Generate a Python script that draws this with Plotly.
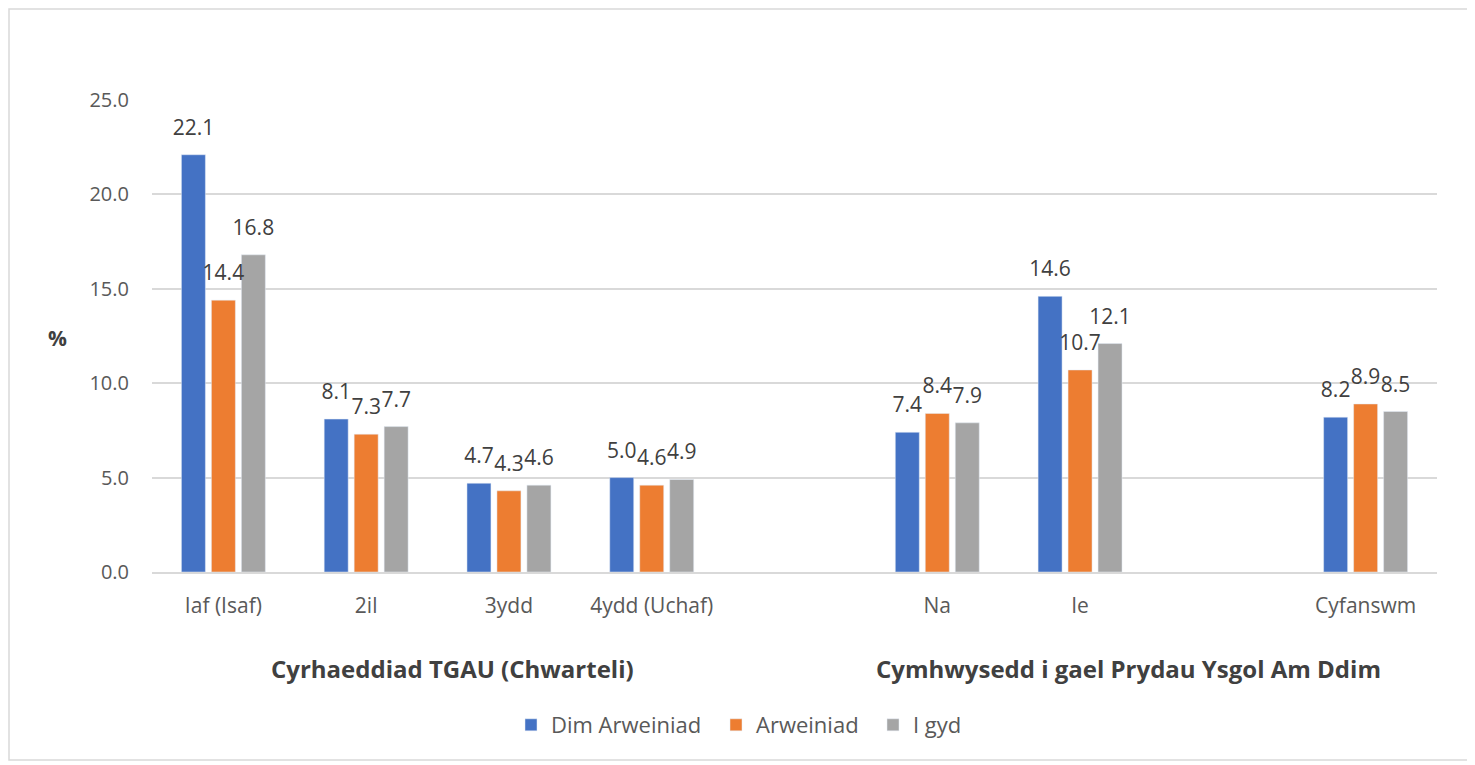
import plotly.graph_objects as go

categories = ["Iaf (Isaf)", "2il", "3ydd", "4ydd (Uchaf)", " ", "Na", "Ie", "  ", "Cyfanswm"]
dim_arweiniad = [22.1, 8.1, 4.7, 5.0, None, 7.4, 14.6, None, 8.2]
arweiniad = [14.4, 7.3, 4.3, 4.6, None, 8.4, 10.7, None, 8.9]
i_gyd = [16.8, 7.7, 4.6, 4.9, None, 7.9, 12.1, None, 8.5]
series_names = ["Dim Arweiniad", "Arweiniad", "I gyd"]
colors = ["#4472C4", "#ED7D31", "#A5A5A5"]
group_labels = ["Cyrhaeddiad TGAU (Chwarteli)", "Cymhwysedd i gael Prydau Ysgol Am Ddim"]
y_ticks = [0, 5, 10, 15, 20, 25]

FONT = "Open Sans"
TXT = "#404040"
AX = "#595959"

OFF = 8  # page body margin
W, H = 1475 - OFF, 765 - OFF
L, T = 152 - OFF, 100 - OFF
R = W - (1437 - OFF)
B = H - (572 - OFF)
pw, ph = W - L - R, H - T - B

def px(xs):
    return (xs - OFF - L) / pw

def py(ys):
    return (H - B - (ys - OFF)) / ph

legend_ids = ["legend", "legend2", "legend3"]
legend_text_x = [551, 756, 913]

fig = go.Figure()
for name, vals, col, lid in zip(series_names, [dim_arweiniad, arweiniad, i_gyd], colors, legend_ids):
    fig.add_trace(go.Bar(
        x=categories, y=vals, name=name, marker_color=col, legend=lid,
        offsetgroup=name,
    ))
for name, vals in zip(series_names, [dim_arweiniad, arweiniad, i_gyd]):
    fig.add_trace(go.Scatter(
        x=categories, y=vals, mode="markers+text", offsetgroup=name,
        text=[("%.1f" % v) if v is not None else "" for v in vals],
        textposition="top center", cliponaxis=False,
        marker=dict(size=22, opacity=0), showlegend=False, hoverinfo="skip",
        textfont=dict(family=FONT, size=21, color=TXT),
    ))

legend_common = dict(orientation="h", xanchor="left", yanchor="middle",
                     font=dict(family=FONT, size=22, color=AX), itemwidth=30,
                     bgcolor="rgba(0,0,0,0)")
legends = {}
for lid, tx in zip(legend_ids, legend_text_x):
    legends[lid] = dict(legend_common, x=px(tx - 40), y=py(725))

fig.update_layout(
    width=W, height=H,
    margin=dict(l=L, r=R, t=T, b=B, autoexpand=False),
    paper_bgcolor="white", plot_bgcolor="white",
    barmode="group", bargap=0.37, bargroupgap=0.2,
    scattermode="group", scattergap=0.37,
    font=dict(family=FONT, color=AX),
    showlegend=True,
    xaxis=dict(type="category", categoryorder="array", categoryarray=categories,
               showgrid=False, showline=True, linecolor="#D9D9D9", linewidth=1.5,
               ticks="", tickfont=dict(family=FONT, size=21, color=AX), ticklabelstandoff=14,
               automargin=False),
    yaxis=dict(range=[0, 25], tickvals=y_ticks, tickformat=".1f", showgrid=True,
               gridcolor="#D9D9D9", gridwidth=1.5, zeroline=False, showline=False,
               ticks="", tickfont=dict(family=FONT, size=20, color=AX), ticklabelstandoff=22,
               automargin=False),
    **legends,
)

fig.add_annotation(text="<b>%</b>", xref="paper", yref="paper", x=px(57), y=py(338),
                   xanchor="center", yanchor="middle",
                   showarrow=False, font=dict(family=FONT, size=21, color=TXT))
fig.add_annotation(text="<b>" + group_labels[0] + "</b>", xref="paper", yref="paper",
                   x=px(452), y=py(668), xanchor="center", yanchor="middle", showarrow=False,
                   font=dict(family=FONT, size=24, color=TXT))
fig.add_annotation(text="<b>" + group_labels[1] + "</b>", xref="paper", yref="paper",
                   x=px(1128), y=py(668), xanchor="center", yanchor="middle", showarrow=False,
                   font=dict(family=FONT, size=24, color=TXT))
fig.add_shape(type="rect", xref="paper", yref="paper",
              x0=px(OFF + 1), x1=px(1469), y0=py(760), y1=py(OFF + 1),
              line=dict(color="#D9D9D9", width=1.5), layer="below")

fig.write_html("out.html")
